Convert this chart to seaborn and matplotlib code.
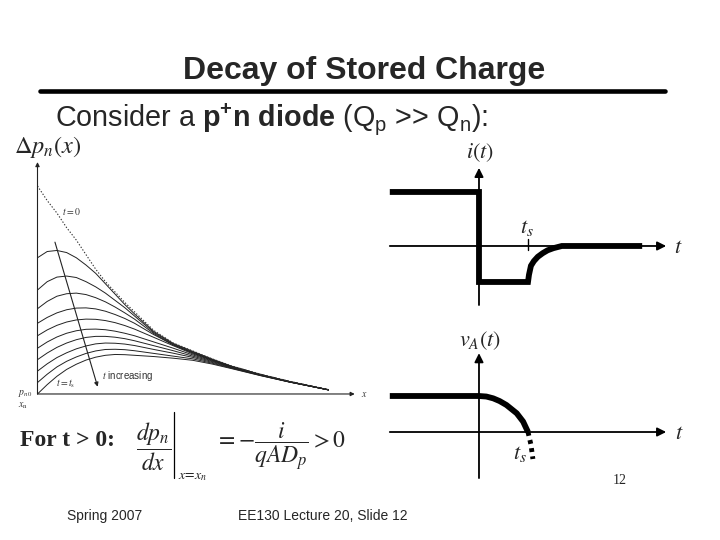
import matplotlib
matplotlib.use("Agg")
import pandas as pd
import matplotlib.pyplot as plt
from matplotlib.lines import Line2D
import seaborn as sns

# Left figure: excess hole profiles, x measured from x_n (arb. units)
x_pos = [0, 0.1, 0.2, 0.3, 0.4, 0.5, 0.6, 0.7, 0.8, 0.9, 1.0, 1.2, 1.4, 1.6, 1.8, 2.0, 2.3, 2.6, 3.0]
dp_t0 = [1.00, 0.93, 0.87, 0.80, 0.74, 0.67, 0.60, 0.54, 0.49, 0.44, 0.395, 0.305, 0.245, 0.207, 0.169, 0.135, 0.095, 0.061, 0.021]
dp_curves = [
    [0.655, 0.685, 0.690, 0.680, 0.655, 0.620, 0.580, 0.530, 0.480, 0.430, 0.385, 0.300, 0.243, 0.205, 0.168, 0.134, 0.094, 0.060, 0.020],
    [0.500, 0.540, 0.562, 0.567, 0.560, 0.540, 0.515, 0.485, 0.450, 0.415, 0.375, 0.295, 0.240, 0.202, 0.166, 0.133, 0.093, 0.059, 0.020],
    [0.410, 0.445, 0.470, 0.482, 0.485, 0.478, 0.463, 0.443, 0.418, 0.390, 0.360, 0.290, 0.236, 0.199, 0.164, 0.131, 0.092, 0.058, 0.019],
    [0.340, 0.368, 0.390, 0.405, 0.413, 0.414, 0.409, 0.398, 0.382, 0.363, 0.340, 0.285, 0.236, 0.197, 0.164, 0.132, 0.093, 0.059, 0.020],
    [0.280, 0.308, 0.330, 0.346, 0.356, 0.360, 0.359, 0.353, 0.343, 0.329, 0.312, 0.272, 0.232, 0.193, 0.162, 0.131, 0.092, 0.059, 0.020],
    [0.220, 0.250, 0.274, 0.292, 0.304, 0.311, 0.312, 0.309, 0.302, 0.292, 0.280, 0.250, 0.220, 0.188, 0.159, 0.130, 0.092, 0.058, 0.020],
    [0.165, 0.197, 0.224, 0.245, 0.261, 0.272, 0.277, 0.277, 0.273, 0.266, 0.256, 0.232, 0.208, 0.182, 0.156, 0.128, 0.091, 0.058, 0.020],
    [0.110, 0.145, 0.175, 0.198, 0.217, 0.231, 0.241, 0.245, 0.244, 0.240, 0.233, 0.214, 0.196, 0.176, 0.152, 0.126, 0.090, 0.058, 0.020],
    [0.055, 0.095, 0.130, 0.157, 0.178, 0.195, 0.207, 0.214, 0.215, 0.213, 0.208, 0.195, 0.182, 0.169, 0.148, 0.124, 0.089, 0.057, 0.020],
    [0.000, 0.045, 0.085, 0.118, 0.143, 0.163, 0.177, 0.186, 0.190, 0.189, 0.186, 0.180, 0.172, 0.162, 0.144, 0.122, 0.088, 0.057, 0.020],
]

# diode current, time in units of t_s
ts = 1.0
t_i = [-1.82, 0, 0, 1.0, 1.02, 1.06, 1.12, 1.2, 1.3, 1.4, 1.52, 1.69, 3.33]
i_vals = [1.5, 1.5, -1.0, -1.0, -0.80, -0.55, -0.42, -0.30, -0.20, -0.12, -0.06, 0.0, 0.0]

# junction voltage
t_v = [-1.82, 0, 0.15, 0.29, 0.42, 0.56, 0.77, 0.90, 1.0]
v_vals = [1.0, 1.0, 0.985, 0.935, 0.86, 0.75, 0.52, 0.29, 0.0]
t_vdot = [1.0, 1.06, 1.1]
v_vdot = [0.0, -0.35, -0.75]

sns.set_theme(style="white")
plt.rcParams["font.family"] = ["Liberation Sans", "DejaVu Sans"]
plt.rcParams["mathtext.fontset"] = "custom"
plt.rcParams["mathtext.rm"] = "Liberation Sans"
plt.rcParams["mathtext.it"] = "Liberation Sans:italic"
plt.rcParams["mathtext.bf"] = "Liberation Sans:bold"

W, H = 720, 540
fig = plt.figure(figsize=(7.2, 5.4), dpi=100)
fig.patch.set_facecolor("white")


def px_axes(x0, y0, x1, y1):
    ax = fig.add_axes([x0 / W, 1 - y1 / H, (x1 - x0) / W, (y1 - y0) / H])
    ax.set_axis_off()
    return ax


def ftext(x, y, s, **kw):
    fig.text(x / W, 1 - y / H, s, **kw)


# header
ftext(364, 79, "Decay of Stored Charge", ha="center", va="baseline", fontsize=23, fontweight="bold")
fig.add_artist(Line2D([40 / W, 665 / W], [1 - 90.5 / H, 1 - 90.5 / H], color="black", lw=3.3))
ftext(55, 126, r"Consider a $\mathbf{p^{+}n\ diode}$ (Q$_\mathrm{p}$ >> Q$_\mathrm{n}$):",
      ha="left", va="baseline", fontsize=20.7)

# ---- left: stored charge profiles
ax1 = px_axes(5, 160, 365, 410)
rows = []
for k, ys in enumerate(dp_curves):
    for xv, yv in zip(x_pos, ys):
        rows.append({"x": xv, "dp": yv, "curve": k})
prof = pd.DataFrame(rows)
sns.lineplot(data=prof, x="x", y="dp", units="curve", estimator=None, color="#222222", lw=0.7, ax=ax1)
sns.lineplot(x=x_pos, y=dp_t0, color="#333333", lw=0.8, ls=(0, (1.2, 1.6)), ax=ax1)
ax1.set_xlim(-0.335, 3.376)
ax1.set_ylim(-0.077, 1.125)
ax1.set_axis_off()
thin = dict(arrowstyle="-|>", lw=0.8, color="#222222", mutation_scale=6, shrinkA=0, shrinkB=0)
ax1.annotate("", xy=(0, 1.115), xytext=(0, 0), arrowprops=thin)
ax1.annotate("", xy=(3.27, 0), xytext=(0, 0), arrowprops=thin)
ax1.annotate("", xy=(0.62, 0.035), xytext=(0.18, 0.73), arrowprops=thin)
small = dict(fontsize=7, color="#333333", math_fontfamily="stix")
ax1.text(0.25, 0.875, r"$t = 0$", ha="left", va="center", **small)
ax1.text(0.66, 0.085, r"$t$ increasing", ha="left", va="center", **small)
ax1.text(0.19, 0.05, r"$t = t_\mathrm{s}$", ha="left", va="center", **small)
ax1.text(-0.05, 0.0, r"$p_{n0}$", ha="right", va="center", **small)
ax1.text(-0.2, -0.055, r"$x_\mathrm{n}$", ha="left", va="center", **small)
ax1.text(3.33, 0.0, r"$x$", ha="left", va="center", **small)
ftext(14, 147, r"$\Delta p_n(x)$", ha="left", va="center", fontsize=17.5, math_fontfamily="stix")

# ---- right top: i(t)
thick_ax = dict(arrowstyle="-|>", lw=1.3, color="black", mutation_scale=13, shrinkA=0, shrinkB=0)
ax2 = px_axes(385, 140, 700, 310)
ax2.set_xlim(-1.918, 4.51)
ax2.set_ylim(-1.778, 2.944)
ax2.annotate("", xy=(0, 2.17), xytext=(0, -1.64), arrowprops=thick_ax)
ax2.annotate("", xy=(3.82, 0), xytext=(-1.82, 0), arrowprops=thick_ax)
sns.lineplot(x=t_i, y=i_vals, sort=False, estimator=None, color="black", lw=4.2,
             solid_joinstyle="miter", solid_capstyle="butt", ax=ax2)
ax2.plot([ts, ts], [0.19, -0.11], color="black", lw=1)
ax2.set_axis_off()
ax2.text(0.02, 2.6, r"$i(t)$", ha="center", va="center", fontsize=16, math_fontfamily="stix")
ax2.text(ts - 0.02, 0.5, r"$t_s$", ha="center", va="center", fontsize=16, math_fontfamily="stix")
ax2.text(3.98, -0.05, r"$t$", ha="left", va="center", fontsize=16, math_fontfamily="stix")

# ---- right bottom: v_A(t)
ax3 = px_axes(385, 325, 700, 485)
ax3.set_xlim(-1.918, 4.51)
ax3.set_ylim(-1.472, 2.972)
ax3.annotate("", xy=(0, 2.19), xytext=(0, -1.28), arrowprops=thick_ax)
ax3.annotate("", xy=(3.82, 0), xytext=(-1.82, 0), arrowprops=thick_ax)
sns.lineplot(x=t_v, y=v_vals, sort=False, estimator=None, color="black", lw=4.2,
             solid_capstyle="butt", ax=ax3)
sns.lineplot(x=t_vdot, y=v_vdot, sort=False, estimator=None, color="black", lw=3.5,
             ls=(0, (0.8, 0.9)), ax=ax3)
ax3.set_axis_off()
ax3.text(0.02, 2.55, r"$v_A(t)$", ha="center", va="center", fontsize=16, math_fontfamily="stix")
ax3.text(0.84, -0.6, r"$t_s$", ha="center", va="center", fontsize=16, math_fontfamily="stix")
ax3.text(4.0, -0.05, r"$t$", ha="left", va="center", fontsize=16, math_fontfamily="stix")

# ---- equation
ftext(20, 441, "For t > 0:", ha="left", va="center", fontsize=17, fontweight="bold", family="Liberation Serif")
ftext(136, 447, r"$\dfrac{dp_n}{dx}$", ha="left", va="center", fontsize=17, math_fontfamily="stix")
fig.add_artist(Line2D([174 / W, 174 / W], [1 - 412 / H, 1 - 478 / H], color="black", lw=0.9))
ftext(178, 476, r"$x\!=\!x_n$", ha="left", va="center", fontsize=10, math_fontfamily="stix")
ftext(215, 447, r"$=-\dfrac{i}{qAD_p}>0$", ha="left", va="center", fontsize=17, math_fontfamily="stix")

# ---- footer
ftext(67, 516, "Spring 2007", ha="left", va="center", fontsize=10)
ftext(238, 516, "EE130 Lecture 20, Slide 12", ha="left", va="center", fontsize=10)
ftext(620, 480, "12", ha="center", va="center", fontsize=10, family="Liberation Serif")

fig.savefig("out.png", dpi=100, facecolor="white")
